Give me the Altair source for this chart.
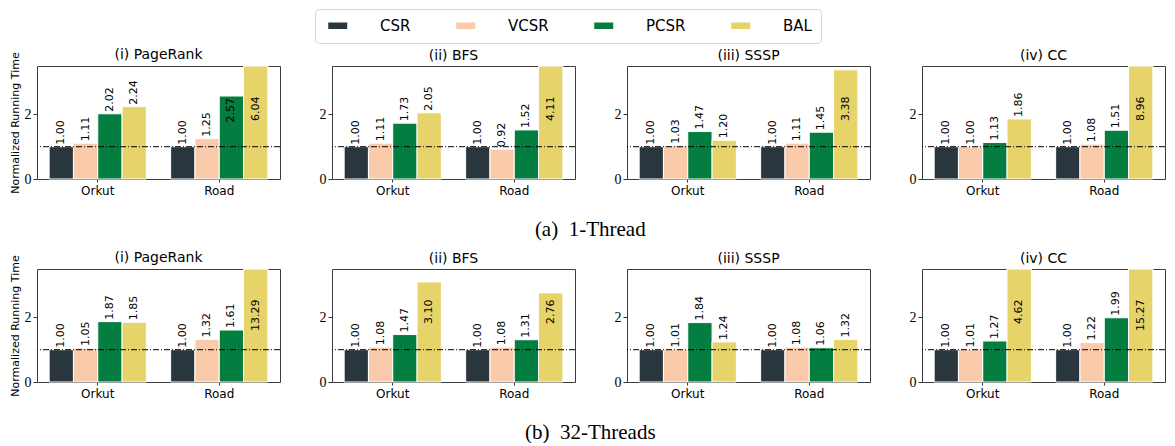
import altair as alt
import pandas as pd

# ---------------- data ----------------
algorithms = ["(i) PageRank", "(ii) BFS", "(iii) SSSP", "(iv) CC"]
graphs = ["Orkut", "Road"]
formats = ["CSR", "VCSR", "PCSR", "BAL"]
colors = ["#29363d", "#f9cbab", "#037d40", "#e6d46a"]
captions = ["(a)\u00a0 1-Thread", "(b)\u00a0 32-Threads"]
baseline = [1.0]

# 1 thread (values per format: CSR, VCSR, PCSR, BAL)
pr_1t_orkut = [1.00, 1.11, 2.02, 2.24]
pr_1t_road = [1.00, 1.25, 2.57, 6.04]
bfs_1t_orkut = [1.00, 1.11, 1.73, 2.05]
bfs_1t_road = [1.00, 0.92, 1.52, 4.11]
sssp_1t_orkut = [1.00, 1.03, 1.47, 1.20]
sssp_1t_road = [1.00, 1.11, 1.45, 3.38]
cc_1t_orkut = [1.00, 1.00, 1.13, 1.86]
cc_1t_road = [1.00, 1.08, 1.51, 8.96]

# 32 threads
pr_32t_orkut = [1.00, 1.05, 1.87, 1.85]
pr_32t_road = [1.00, 1.32, 1.61, 13.29]
bfs_32t_orkut = [1.00, 1.08, 1.47, 3.10]
bfs_32t_road = [1.00, 1.08, 1.31, 2.76]
sssp_32t_orkut = [1.00, 1.01, 1.84, 1.24]
sssp_32t_road = [1.00, 1.08, 1.06, 1.32]
cc_32t_orkut = [1.00, 1.01, 1.27, 4.62]
cc_32t_road = [1.00, 1.22, 1.99, 15.27]

rows = [
    [(pr_1t_orkut, pr_1t_road), (bfs_1t_orkut, bfs_1t_road),
     (sssp_1t_orkut, sssp_1t_road), (cc_1t_orkut, cc_1t_road)],
    [(pr_32t_orkut, pr_32t_road), (bfs_32t_orkut, bfs_32t_road),
     (sssp_32t_orkut, sssp_32t_road), (cc_32t_orkut, cc_32t_road)],
]

# ---------------- style ----------------
SANS = "DejaVu Sans"
SERIF = "Liberation Serif"
YTITLE = "Normalized Running Time"
PW, PH = 243, 113

legend = alt.Legend(
    title=None, orient="none", legendX=278, legendY=-57, direction="horizontal",
    symbolType="M-0.5,-0.5H2.42V0.5H-0.5Z", symbolSize=169, symbolStrokeWidth=0,
    symbolOpacity=1, labelFont=SANS, labelFontSize=15, labelColor="black",
    labelOffset=41, columnPadding=41, padding=9, strokeColor="#d6d6d6",
    cornerRadius=4, fillColor="white",
)


def make_yaxis(first):
    return alt.Axis(values=[0, 2], domain=False, grid=False, tickSize=4,
                    tickColor="#333333", labelFont=SERIF, labelFontSize=14,
                    labelColor="black", labelPadding=2,
                    title=YTITLE if first else "",
                    titleFont=SANS, titleFontSize=11, titleFontWeight="normal",
                    titleColor="black", titlePadding=4)


def panel(vo, vr, title, first):
    df = pd.DataFrame({
        "graph": ["Orkut"] * 4 + ["Road"] * 4,
        "format": formats * 2,
        "value": vo + vr,
    })
    base = alt.Chart(df)
    yscale = alt.Scale(domain=[0, 3.5], clamp=True, nice=False)
    yaxis = make_yaxis(first)
    xenc = alt.X("graph:N", sort=graphs, title=None,
                 scale=alt.Scale(paddingInner=0.2, paddingOuter=0.1),
                 axis=alt.Axis(labelAngle=0, domain=False, tickSize=3, labelPadding=3,
                               labelFont=SANS, labelFontSize=12, labelColor="black",
                               tickColor="#333333"))
    xoff = alt.XOffset("format:N", sort=formats,
                       scale=alt.Scale(paddingInner=0, paddingOuter=0))

    bars = base.mark_bar(stroke="white", strokeWidth=1).encode(
        x=xenc, xOffset=xoff,
        y=alt.Y("value:Q", scale=yscale, axis=yaxis),
        color=alt.Color("format:N", sort=formats,
                        scale=alt.Scale(domain=formats, range=colors), legend=legend),
    )
    ref = alt.Chart(pd.DataFrame({"value": baseline})).mark_rule(
        color="black", strokeWidth=1, strokeDash=[6, 2, 1, 2]
    ).encode(y=alt.Y("value:Q", scale=yscale, axis=yaxis))
    out = base.transform_filter("datum.value <= 2.5").mark_text(
        angle=270, align="left", baseline="middle", dx=2,
        font=SANS, fontSize=11, color="black"
    ).encode(x=xenc, xOffset=xoff, y=alt.Y("value:Q", scale=yscale, axis=yaxis),
             text=alt.Text("value:Q", format=".2f"))
    inn = base.transform_filter("datum.value > 2.5").transform_calculate(
        ly="min(datum.value, 2.62)"
    ).mark_text(
        angle=270, align="right", baseline="middle", dx=-2,
        font=SANS, fontSize=11, color="black"
    ).encode(x=xenc, xOffset=xoff, y=alt.Y("ly:Q", scale=yscale, axis=yaxis),
             text=alt.Text("value:Q", format=".2f"))
    return alt.layer(bars, ref, out, inn).properties(
        width=PW, height=PH,
        title=alt.TitleParams(title, font=SANS, fontSize=14, fontWeight="normal",
                              color="black", offset=-10 if first else 3, frame="group"),
    )


row_charts = []
for r, cap in zip(rows, captions):
    panels = [panel(vo, vr, t, i == 0) for i, ((vo, vr), t) in enumerate(zip(r, algorithms))]
    row_charts.append(
        alt.hconcat(*panels, spacing=52, bounds="flush").properties(
            title=alt.TitleParams(cap, orient="bottom", font=SERIF, fontSize=21,
                                  fontWeight="normal", color="black", anchor="middle",
                                  offset=22, dx=3)
        )
    )

chart = alt.vconcat(*row_charts, spacing=10).properties(
    padding={"top": 0, "left": 0, "right": 0, "bottom": 0}
).configure_view(stroke="#3d3d3d", strokeWidth=1).configure_axis(grid=False)

chart.save("out.html", embed_options={"renderer": "svg", "actions": False})
